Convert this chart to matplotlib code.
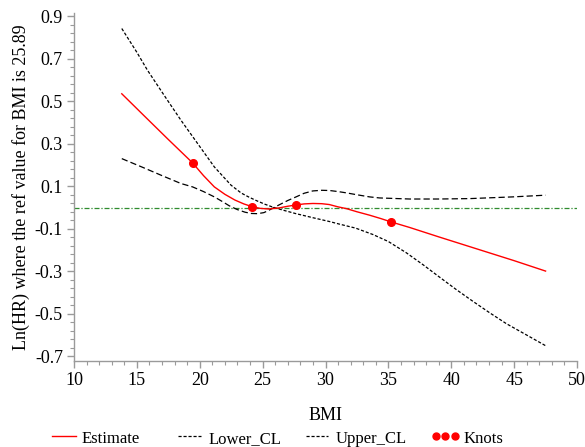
import matplotlib
matplotlib.use("Agg")
import matplotlib.pyplot as plt
from matplotlib.ticker import MultipleLocator, FixedLocator, FuncFormatter
from matplotlib.lines import Line2D
import numpy as np

# ---- data ----
est_x = [13.8, 15.5, 17.5, 19.43, 20.3, 21.16, 22.0, 22.8, 23.5, 24.16, 24.8, 25.5, 26.3, 27.0, 27.66, 28.3, 29.0, 29.7, 30.3, 31.0, 31.65, 32.5, 33.5, 34.4, 35.23, 36.7, 39.0, 42.0, 45.0, 47.5]
est_y = [0.535, 0.436, 0.32, 0.210, 0.150, 0.097, 0.062, 0.035, 0.017, 0.004, -0.004, -0.007, -0.002, 0.006, 0.012, 0.017, 0.019, 0.018, 0.014, 0.003, -0.005, -0.020, -0.036, -0.052, -0.068, -0.094, -0.138, -0.194, -0.250, -0.299]

lcl_x = [13.8, 15.0, 15.84, 17.2, 18.5, 19.83, 21.16, 22.49, 23.3, 23.94, 24.6, 25.2, 25.9, 26.6, 27.66, 29.0, 30.32, 31.1, 32.4, 33.77, 35.0, 36.43, 37.8, 39.08, 40.4, 41.74, 43.1, 44.4, 46.0, 47.5]
lcl_y = [0.842, 0.730, 0.646, 0.525, 0.411, 0.301, 0.191, 0.105, 0.068, 0.048, 0.030, 0.015, 0.0, -0.012, -0.029, -0.048, -0.066, -0.078, -0.097, -0.127, -0.160, -0.213, -0.271, -0.328, -0.386, -0.442, -0.497, -0.547, -0.600, -0.650]

ucl_x = [13.8, 15.5, 17.0, 18.5, 19.43, 20.3, 21.16, 21.8, 22.35, 23.0, 23.6, 24.1, 24.6, 25.1, 25.5, 25.9, 26.5, 27.0, 27.66, 28.3, 28.99, 29.7, 30.32, 31.0, 31.65, 32.5, 33.5, 34.3, 36.7, 39.0, 41.5, 44.9, 47.5]
ucl_y = [0.230, 0.188, 0.150, 0.113, 0.097, 0.075, 0.050, 0.028, 0.008, -0.010, -0.022, -0.028, -0.029, -0.024, -0.013, 0.0, 0.018, 0.033, 0.050, 0.067, 0.078, 0.081, 0.080, 0.075, 0.069, 0.060, 0.050, 0.045, 0.040, 0.040, 0.042, 0.050, 0.058]

knot_x = [19.43, 24.16, 27.66, 35.23]
knot_y = [0.210, 0.004, 0.012, -0.068]

ref_y = 0.0

xlabel = "BMI"
ylabel = "Ln(HR) where the ref value for BMI is 25.89"
legend_labels = ["Estimate", "Lower_CL", "Upper_CL", "Knots"]

# ---- styles ----
RED = "#ff0000"
GREY = "#9a9a9a"
LCL_DASH = (0, (2.5, 1.5))
UCL_DASH = (0, (5, 2.5))

plt.rcParams['font.family'] = ['Liberation Serif', 'DejaVu Serif']
plt.rcParams['font.size'] = 13

fig = plt.figure(figsize=(5.85, 4.47), dpi=100)
W, H = 585.0, 447.0
ax = fig.add_axes([74/W, 1 - 361/H, (577 - 74)/W, (361 - 13)/H])

ax.axhline(ref_y, color="#2e8b2e", lw=0.9, linestyle=(0, (4, 1.5, 1, 1.5)), zorder=1)
ax.plot(lcl_x, lcl_y, color="black", lw=0.9, linestyle=LCL_DASH, zorder=2)
ax.plot(ucl_x, ucl_y, color="black", lw=0.9, linestyle=UCL_DASH, zorder=2)
ax.plot(est_x, est_y, color=RED, lw=1.0, zorder=3)
ax.plot(knot_x, knot_y, 'o', color=RED, ms=5.5, zorder=4, linestyle='none')

ax.set_xlim(10, 50)
ax.set_ylim(-0.722, 0.915)
ax.xaxis.set_major_locator(MultipleLocator(5))
ax.xaxis.set_minor_locator(MultipleLocator(1))
ax.yaxis.set_major_locator(FixedLocator(np.round(np.arange(-0.7, 0.91, 0.2), 2)))
ax.yaxis.set_minor_locator(FixedLocator(np.round(np.arange(-0.7, 0.91, 0.04), 2)))
ax.yaxis.set_major_formatter(FuncFormatter(lambda v, p: f"{v:.1f}"))

for s in ["top", "right"]:
    ax.spines[s].set_visible(False)
for s in ["left", "bottom"]:
    ax.spines[s].set_color(GREY)
    ax.spines[s].set_linewidth(1.0)
ax.tick_params(which="major", direction="out", length=5, width=1, color=GREY,
               labelcolor="black", labelsize=13, pad=3)
ax.tick_params(which="minor", direction="out", length=3, width=0.8, color=GREY)

ax.set_xlabel(xlabel, fontsize=13, labelpad=13)
ax.set_ylabel(ylabel, fontsize=13, labelpad=3)

# ---- legend (drawn in figure coordinates so all labels share one baseline) ----
hy = 1 - 435.7 / H
ty = 1 - 443.3 / H
tf = fig.transFigure
leg_items = [
    (51.7, 75.7, 81.7, dict(color=RED, lw=1.0)),
    (178.3, 200.7, 209.0, dict(color="black", lw=0.9, linestyle=LCL_DASH)),
    (305.7, 328.3, 336.0, dict(color="black", lw=0.9, linestyle=LCL_DASH)),
]
for (x0, x1, tx, kw), lab in zip(leg_items, legend_labels[:3]):
    fig.add_artist(Line2D([x0 / W, x1 / W], [hy, hy], transform=tf, **kw))
    fig.text(tx / W, ty, lab, fontsize=12, va="baseline", ha="left")
fig.add_artist(Line2D(np.array([435.7, 445.3, 455.0]) / W, [hy] * 3, transform=tf,
                      marker='o', ms=5, color=RED, linestyle='none'))
fig.text(463.3 / W, ty, legend_labels[3], fontsize=12, va="baseline", ha="left")

fig.savefig("out.png", dpi=100)
